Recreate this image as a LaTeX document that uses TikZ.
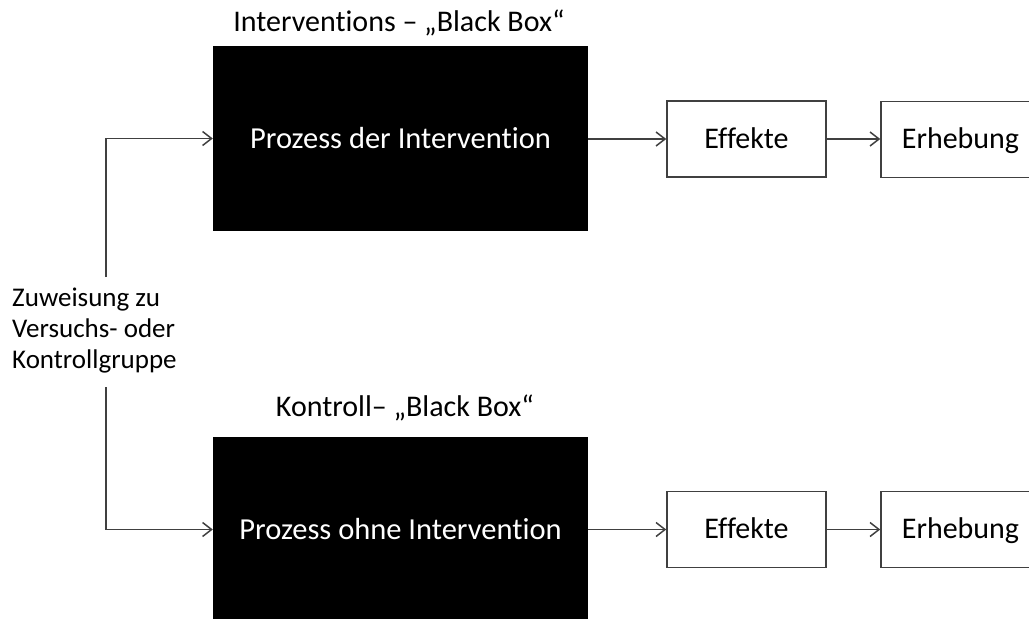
\documentclass[tikz,border=0pt]{standalone}
\usepackage{fontspec}
\setmainfont{Carlito}[Ligatures=NoCommon]
\usetikzlibrary{arrows.meta}
\tikzset{
  blackbox/.style={fill=black, draw=none, minimum width=375pt, minimum height=185pt, inner sep=0pt, text=white, text height=19pt, text depth=0pt, font=\fontsize{30.5}{35}\selectfont},
  whitebox/.style={draw=black!75, line width=1.5pt, fill=white, minimum width=159pt, minimum height=76pt, inner sep=0pt, text height=18pt, text depth=0pt, font=\fontsize{30}{35}\selectfont},
  titletext/.style={font=\fontsize{30}{35}\selectfont, inner sep=0pt, anchor=base},
  sidetext/.style={font=\fontsize{27}{31}\selectfont, inner sep=0pt, align=left, anchor=west},
  conn/.style={draw=black!75, line width=1.5pt, -{Straight Barb[length=9pt,width=14pt,line width=1.5pt]}},
}
\begin{document}
\begin{tikzpicture}[x=1pt,y=-1pt]
\useasboundingbox (0,0) rectangle (1029,619);
\clip (0,0) rectangle (1029,619);
\node[titletext] (t1) at (399,31) {Interventions – „Black Box“};
\node[blackbox] (b1) at (400.5,138.5) {Prozess der Intervention};
\node[whitebox] (e1) at (746.5,139) {Effekte};
\node[whitebox] (r1) at (960.5,139.5) {Erhebung};
\node[titletext] (t2) at (405,416) {Kontroll– „Black Box“};
\node[blackbox] (b2) at (400.5,529.5) {Prozess ohne Intervention};
\node[whitebox] (e2) at (746.5,529.5) {Effekte};
\node[whitebox] (r2) at (960.5,529.5) {Erhebung};
\node[sidetext] (z) at (12,331) {Zuweisung zu\\Versuchs- oder\\Kontrollgruppe};
\coordinate (c1) at (106,277);
\coordinate (c2) at (106,387);
\draw[conn] (c1) |- (b1.west);
\draw[conn] (c2) |- (b2.west);
\draw[conn] (b1.east |- e1.west) -- (e1.west);
\draw[conn] (e1.east) -- (r1.west |- e1.east);
\draw[conn] (b2.east |- e2.west) -- (e2.west);
\draw[conn] (e2.east) -- (r2.west |- e2.east);
\end{tikzpicture}
\end{document}
